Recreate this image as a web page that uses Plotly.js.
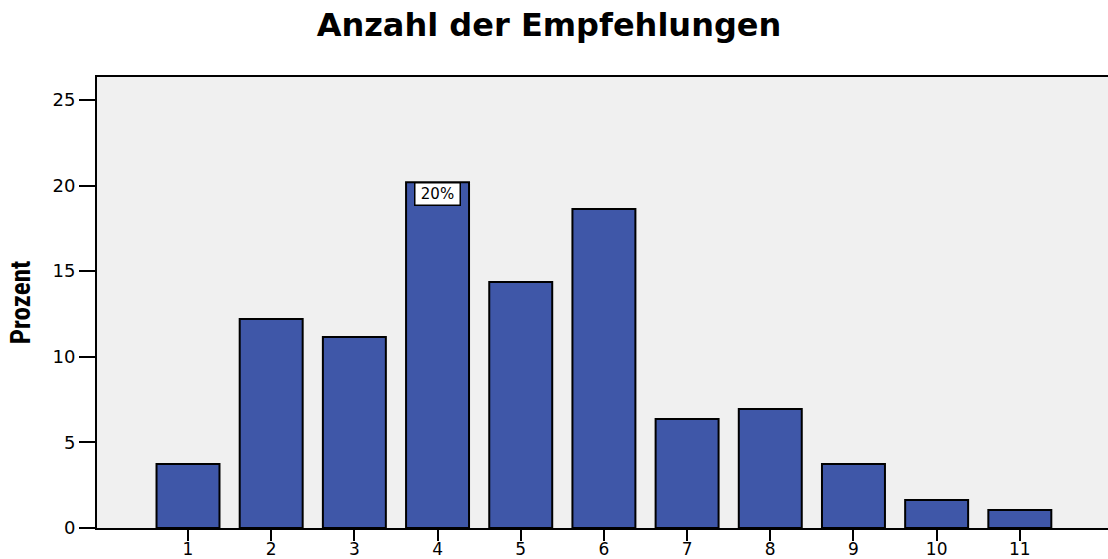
<!DOCTYPE html>
<html>
<head>
<meta charset="utf-8">
<script src="https://cdn.plot.ly/plotly-3.0.1.min.js"></script>
<style>html,body{margin:0;padding:0;background:#fff;}#chart{width:1108px;height:559px;}</style>
</head>
<body>
<div id="chart"></div>
<script>
// Data
const categories = ['1','2','3','4','5','6','7','8','9','10','11'];
const percentValues = [3.74, 12.2, 11.16, 20.2, 14.37, 18.63, 6.37, 6.95, 3.74, 1.64, 1.05];
const yTickValues = [0, 5, 10, 15, 20, 25];
const chartTitle = 'Anzahl der Empfehlungen';
const yAxisTitle = 'Prozent';

const maxIdx = percentValues.indexOf(Math.max(...percentValues));

const trace = {
  type: 'bar',
  x: categories,
  y: percentValues,
  width: 0.757,
  marker: {color: '#3F57A8', line: {color: '#000000', width: 2}},
  hoverinfo: 'x+y'
};

const layout = {
  width: 1108,
  height: 559,
  margin: {l: 97, r: 0, t: 77, b: 31, pad: 0},
  paper_bgcolor: '#ffffff',
  plot_bgcolor: '#F0F0F0',
  showlegend: false,
  title: {
    text: '<b>' + chartTitle + '</b>',
    font: {family: 'DejaVu Sans, Arial, sans-serif', size: 32, color: '#000'},
    x: 549/1108, xanchor: 'center', xref: 'container',
    y: 1 - 25/559, yanchor: 'middle', yref: 'container'
  },
  xaxis: {
    type: 'category',
    range: [-1.094, 11.06],
    showline: true, linecolor: '#000', linewidth: 2, mirror: true,
    ticks: 'outside', ticklen: 11, tickwidth: 2, tickcolor: '#000',
    ticklabelstandoff: -6,
    tickfont: {family: 'DejaVu Sans, Arial, sans-serif', size: 17, color: '#000'},
    showgrid: false, zeroline: false, fixedrange: true
  },
  yaxis: {
    range: [0, 26.34],
    tickvals: yTickValues,
    ticktext: yTickValues.map(String),
    showline: true, linecolor: '#000', linewidth: 2,
    ticks: 'outside', ticklen: 16, tickwidth: 2, tickcolor: '#000',
    tickfont: {family: 'DejaVu Sans, Arial, sans-serif', size: 18, color: '#000'},
    showgrid: false, zeroline: false, fixedrange: true,
    title: {
      text: '<b>' + yAxisTitle + '</b>',
      font: {family: 'Liberation Sans Narrow, Arial Narrow, Roboto Condensed, Liberation Sans, sans-serif', size: 27, color: '#000'},
      standoff: 14
    }
  },
  annotations: [{
    x: maxIdx,
    y: percentValues[maxIdx],
    xref: 'x', yref: 'y',
    yanchor: 'top', xanchor: 'center',
    showarrow: false,
    text: Math.round(percentValues[maxIdx]) + '%',
    font: {family: 'DejaVu Sans, Arial, sans-serif', size: 15, color: '#000'},
    bgcolor: '#ffffff',
    bordercolor: '#000000',
    borderwidth: 1.5,
    borderpad: 1,
    width: 42,
    height: 19
  }]
};

Plotly.newPlot('chart', [trace], layout, {displayModeBar: false, staticPlot: true});
</script>
</body>
</html>
